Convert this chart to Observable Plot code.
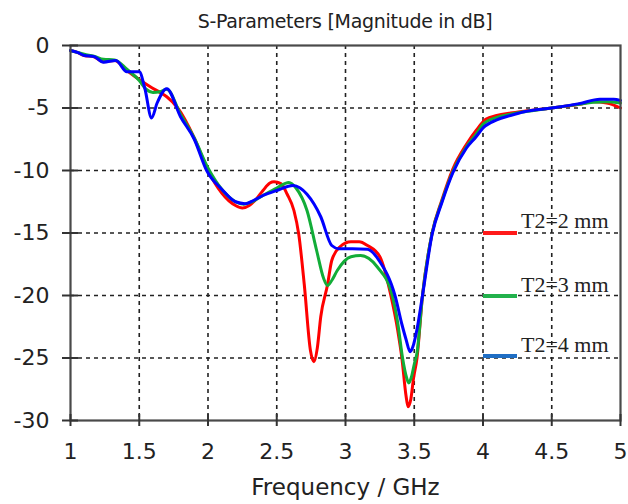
<!DOCTYPE html>
<html>
<head>
<meta charset="utf-8">
<script src="https://cdn.jsdelivr.net/npm/d3@7"></script>
<script src="https://cdn.jsdelivr.net/npm/@observablehq/plot@0.6"></script>
<style>
  html, body { margin: 0; padding: 0; background: #fff; }
  #wrap { position: relative; width: 628px; height: 504px; overflow: hidden; background: #fff; }
  #title { box-sizing: border-box; height: 32px; padding: 11px 8px 0 70px; font: 19px "DejaVu Sans", sans-serif; letter-spacing: -0.3px; line-height: 21px; text-align: center; color: #222; white-space: nowrap; }
  .lg-line { position: absolute; width: 34px; height: 4px; }
  .lg-text { position: absolute; font: 22px "Liberation Serif", serif; line-height: 22px; color: #222; white-space: nowrap; }
</style>
</head>
<body>
<div id="wrap">
  <div id="title"></div>
  <div id="chart"></div>
  <div id="legend"></div>
</div>
<script>
const titleText = "S-Parameters [Magnitude in dB]";
const xLabel = "Frequency / GHz";
const xTicks = [1, 1.5, 2, 2.5, 3, 3.5, 4, 4.5, 5];
const yTicks = [0, -5, -10, -15, -20, -25, -30];
const seriesNames = ["T2=2 mm", "T2=3 mm", "T2=4 mm"];
const lineColors = ["#ff0000", "#12ad38", "#0000ff"];
const legendColors = ["#ff1a1a", "#22b14c", "#1f6ec4"];

const freqRed = [1.0, 1.05, 1.1, 1.17, 1.24, 1.32, 1.41, 1.51, 1.58, 1.65, 1.7, 1.78, 1.9, 2.0, 2.1, 2.2, 2.25, 2.3, 2.35, 2.4, 2.45, 2.48, 2.53, 2.576, 2.625, 2.66, 2.7, 2.745, 2.77, 2.795, 2.82, 2.87, 2.9, 2.96, 3.04, 3.1, 3.16, 3.25, 3.33, 3.38, 3.41, 3.44, 3.455, 3.475, 3.495, 3.52, 3.56, 3.63, 3.7, 3.78, 3.88, 3.95, 4.02, 4.1, 4.2, 4.3, 4.5, 4.7, 4.8, 4.9, 5.0];
const s11Red  = [-0.4, -0.55, -0.8, -0.9, -1.3, -1.2, -2.0, -2.8, -3.3, -3.75, -4.1, -5.0, -7.4, -10.0, -11.8, -12.8, -13.0, -12.8, -12.3, -11.6, -11.0, -10.9, -11.05, -11.9, -13.2, -15.1, -19.1, -24.4, -25.3, -24.2, -21.7, -19.1, -17.2, -16.1, -15.7, -15.7, -16.0, -16.9, -20.0, -22.8, -25.0, -28.0, -28.9, -28.3, -26.6, -25.0, -20.0, -15.0, -12.4, -9.9, -7.9, -6.8, -5.9, -5.6, -5.4, -5.25, -5.0, -4.7, -4.5, -4.6, -5.0];

const freqGreen = [1.0, 1.05, 1.1, 1.17, 1.24, 1.32, 1.41, 1.5, 1.55, 1.6, 1.65, 1.7, 1.8, 1.9, 2.0, 2.1, 2.2, 2.26, 2.32, 2.4, 2.5, 2.588, 2.64, 2.72, 2.79, 2.84, 2.87, 2.9, 2.94, 3.04, 3.11, 3.23, 3.34, 3.38, 3.415, 3.445, 3.46, 3.48, 3.5, 3.52, 3.56, 3.63, 3.7, 3.78, 3.88, 3.95, 4.0, 4.1, 4.2, 4.3, 4.5, 4.7, 4.8, 4.9, 5.0];
const s11Green  = [-0.4, -0.55, -0.7, -0.85, -1.1, -1.15, -1.9, -2.8, -3.5, -3.75, -3.7, -3.5, -5.5, -7.4, -9.8, -11.5, -12.5, -12.7, -12.5, -12.0, -11.4, -10.95, -11.4, -13.2, -16.4, -18.6, -19.2, -18.8, -18.0, -16.9, -16.8, -17.7, -20.0, -22.2, -25.0, -26.6, -27.0, -26.5, -25.5, -24.6, -20.0, -15.0, -12.5, -10.1, -8.1, -7.1, -6.3, -5.75, -5.5, -5.3, -5.0, -4.7, -4.55, -4.5, -4.6];

const freqBlue = [1.0, 1.05, 1.1, 1.17, 1.24, 1.33, 1.41, 1.5, 1.54, 1.59, 1.63, 1.7, 1.8, 1.9, 1.99, 2.1, 2.2, 2.27, 2.33, 2.4, 2.5, 2.62, 2.67, 2.72, 2.82, 2.9, 2.95, 3.05, 3.16, 3.25, 3.36, 3.41, 3.44, 3.47, 3.49, 3.52, 3.56, 3.63, 3.7, 3.78, 3.88, 3.95, 4.0, 4.1, 4.2, 4.3, 4.5, 4.7, 4.85, 4.95, 5.0];
const s11Blue  = [-0.4, -0.55, -0.8, -0.88, -1.33, -1.2, -2.1, -2.1, -3.4, -5.8, -4.6, -3.45, -5.7, -7.5, -10.0, -11.5, -12.5, -12.65, -12.4, -12.0, -11.6, -11.2, -11.4, -11.9, -13.7, -16.0, -16.25, -16.25, -16.3, -17.3, -20.0, -22.3, -23.5, -24.5, -24.1, -22.7, -20.0, -15.1, -12.6, -10.2, -8.2, -7.3, -6.6, -5.95, -5.6, -5.3, -5.0, -4.65, -4.3, -4.3, -4.4];

const freqs = [freqRed, freqGreen, freqBlue];
const values = [s11Red, s11Green, s11Blue];
const rows = [];
seriesNames.forEach((name, i) => freqs[i].forEach((f, j) => rows.push({series: name, f, v: values[i][j]})));

document.getElementById("title").textContent = titleText;

const gridStyle = {stroke: "#222", strokeOpacity: 1, strokeWidth: 1.6, strokeDasharray: "4,4"};

const chart = Plot.plot({
  width: 628,
  height: 472,
  marginLeft: 70,
  marginRight: 8,
  marginTop: 13,
  marginBottom: 84,
  style: {fontFamily: "DejaVu Sans, sans-serif", fontSize: "22px", color: "#222", background: "white", overflow: "visible"},
  x: {domain: [1, 5]},
  y: {domain: [-30, 0]},
  color: {domain: seriesNames, range: lineColors},
  marks: [
    Plot.gridX(xTicks.slice(1, -1), gridStyle),
    Plot.gridY(yTicks.slice(1, -1), gridStyle),
    Plot.line(rows, {x: "f", y: "v", z: "series", stroke: "series", strokeWidth: 3, curve: "monotone-x"}),
    Plot.frame({stroke: "#4a4a4a", strokeWidth: 2.2}),
    Plot.axisX(xTicks, {tickSize: 12, dy: -6, fill: "none", stroke: "#333", strokeWidth: 2, label: null}),
    Plot.axisX(xTicks, {tickSize: 0, tickPadding: 23, stroke: "none", fill: "#222", fontSize: 22, label: null, tickFormat: d => String(d)}),
    Plot.axisY(yTicks, {tickSize: 16, dx: 8, fill: "none", stroke: "#333", strokeWidth: 2, label: null}),
    Plot.axisY(yTicks, {tickSize: 0, tickPadding: 21, stroke: "none", fill: "#222", fontSize: 22, label: null, tickFormat: d => String(d)}),
    Plot.text([xLabel], {text: d => d, frameAnchor: "bottom", lineAnchor: "middle", dy: 67, fontSize: 23, fill: "#222"})
  ]
});
document.getElementById("chart").appendChild(chart);

// legend (layout in CSS pixels)
const legend = document.getElementById("legend");
const lineTops = [231, 294, 354];
const textTops = [210, 274, 334];
seriesNames.forEach((name, i) => {
  const ln = document.createElement("div");
  ln.className = "lg-line";
  ln.style.left = "483px";
  ln.style.top = lineTops[i] + "px";
  ln.style.background = legendColors[i];
  legend.appendChild(ln);
  const tx = document.createElement("div");
  tx.className = "lg-text";
  tx.style.left = "521px";
  tx.style.top = textTops[i] + "px";
  tx.textContent = name;
  legend.appendChild(tx);
});
</script>
</body>
</html>
